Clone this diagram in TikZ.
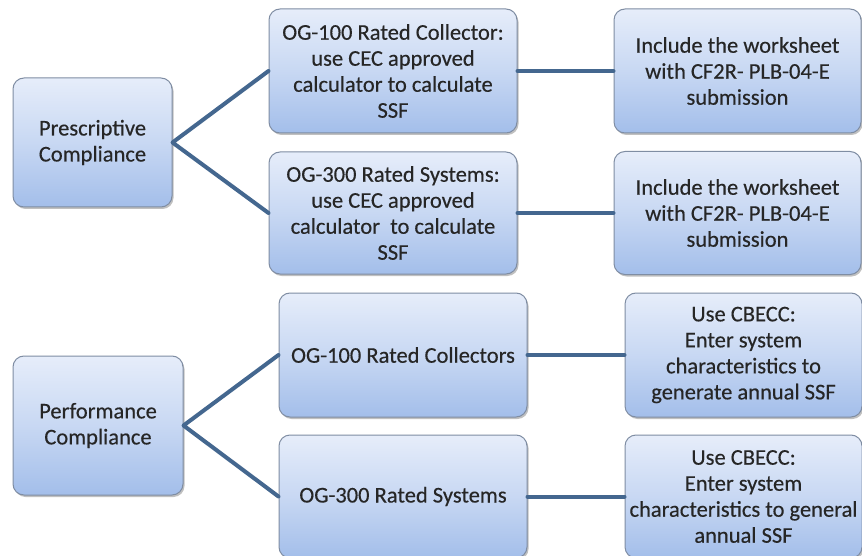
\documentclass[tikz,border=0pt]{standalone}
\usepackage{fontspec}
\setmainfont{Carlito}[FakeBold=0.35]
\usetikzlibrary{shadows}
\definecolor{boxtop}{HTML}{E6EDFA}
\definecolor{boxbot}{HTML}{A3BEEA}
\definecolor{boxline}{HTML}{7F8DA3}
\definecolor{conn}{HTML}{44678F}
\definecolor{txt}{HTML}{262626}
\tikzset{
  box/.style={draw=boxline, line width=1pt, rounded corners=11pt,
    top color=boxtop, bottom color=boxbot, middle color=boxtop!55!boxbot,
    align=center, text=txt, inner sep=2pt,
    font=\fontsize{22.5}{26}\selectfont,
    drop shadow={shadow xshift=1.5pt, shadow yshift=-2pt, opacity=0.35, fill=black!70}},
  link/.style={draw=conn, line width=4pt, line cap=round, line join=round}
}
\begin{document}
\begin{tikzpicture}[x=1pt,y=-1pt]
\useasboundingbox (0,0) rectangle (862,556);
\fill[white] (0,0) rectangle (862,556);
% left column
\node[box, minimum width=159pt, minimum height=129pt] (P) at (92.5,142.5) {Prescriptive\\Compliance};
\node[box, minimum width=170pt, minimum height=139pt] (Q) at (98,425.5) {Performance\\Compliance};
% middle column
\node[box, minimum width=248pt, minimum height=124pt] (A1) at (393,71) {OG-100 Rated Collector:\\use CEC approved\\calculator to calculate\\SSF};
\node[box, minimum width=248pt, minimum height=122pt] (A2) at (393,213) {OG-300 Rated Systems:\\use CEC approved\\calculator\ \ to calculate\\SSF};
\node[box, minimum width=248pt, minimum height=124pt] (B1) at (403,355) {OG-100 Rated Collectors};
\node[box, minimum width=248pt, minimum height=123pt] (B2) at (403,496.5) {OG-300 Rated Systems};
% right column
\node[box, minimum width=247pt, minimum height=124pt] (R1) at (737.5,71) {Include the worksheet\\with CF2R- PLB-04-E\\submission};
\node[box, minimum width=247pt, minimum height=123pt] (R2) at (737.5,213) {Include the worksheet\\with CF2R- PLB-04-E\\submission};
\node[box, minimum width=237pt, minimum height=124pt] (R3) at (743.5,355) {Use CBECC:\\Enter system\\characteristics to\\generate annual SSF};
\node[box, minimum width=237pt, minimum height=123pt] (R4) at (743.5,496.5) {Use CBECC:\\Enter system\\\makebox[200pt]{characteristics to general}\\annual SSF};
% connectors
\draw[link] (A1.west) -- (P.east) -- (A2.west);
\draw[link] (B1.west) -- (Q.east) -- (B2.west);
\draw[link] (A1.east) -- (R1.west);
\draw[link] (A2.east) -- (R2.west);
\draw[link] (B1.east) -- (R3.west);
\draw[link] (B2.east) -- (R4.west);
\end{tikzpicture}
\end{document}
